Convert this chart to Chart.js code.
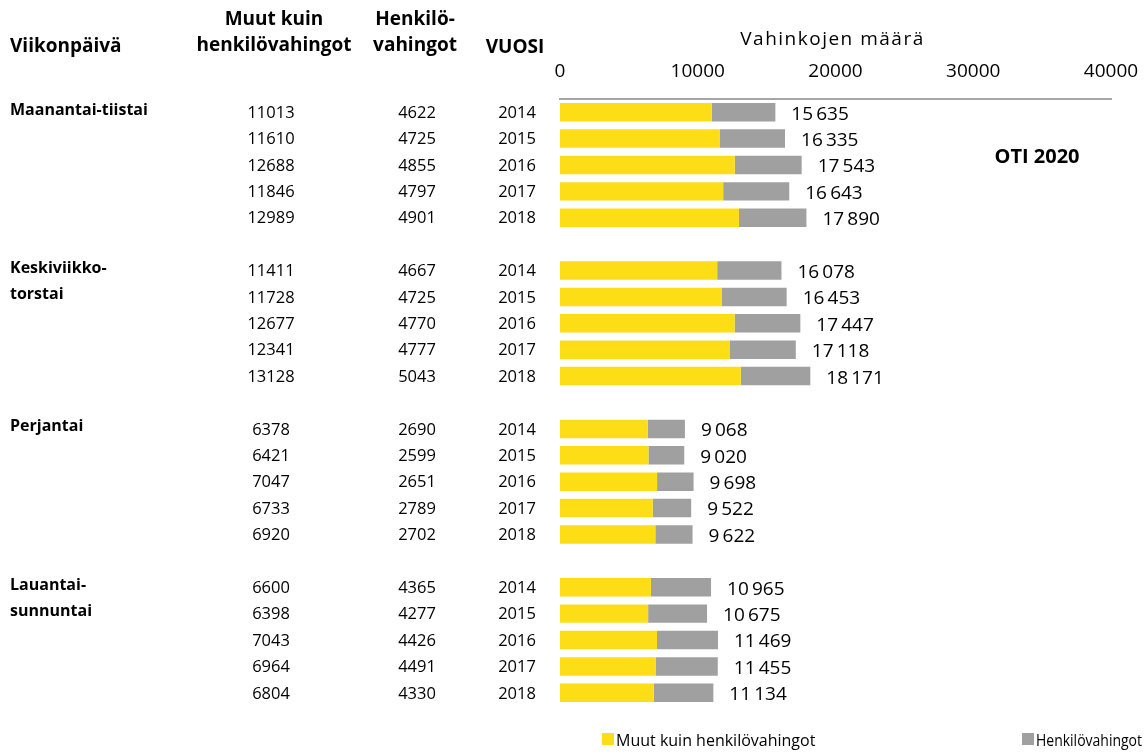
<!DOCTYPE html>
<html>
<head>
<meta charset="utf-8">
<script src="https://cdn.jsdelivr.net/npm/chart.js@4.4.1/dist/chart.umd.min.js"></script>
<style>
  body { margin: 0; background: #fff; }
</style>
</head>
<body>
<canvas id="myChart" width="1144" height="755"></canvas>
<script>
const ctx = document.getElementById("myChart").getContext("2d");

// weekday groups, one label line per row of the table
const groupNames = [
  ['Maanantai-tiistai'],
  ['Keskiviikko-', 'torstai'],
  ['Perjantai'],
  ['Lauantai-', 'sunnuntai'],
];
const years = ['2014', '2015', '2016', '2017', '2018'];

// Muut kuin henkilövahingot
const muutMaTi = [11013, 11610, 12688, 11846, 12989];
const muutKeTo = [11411, 11728, 12677, 12341, 13128];
const muutPe   = [6378, 6421, 7047, 6733, 6920];
const muutLaSu = [6600, 6398, 7043, 6964, 6804];

// Henkilövahingot
const henkMaTi = [4622, 4725, 4855, 4797, 4901];
const henkKeTo = [4667, 4725, 4770, 4777, 5043];
const henkPe   = [2690, 2599, 2651, 2789, 2702];
const henkLaSu = [4365, 4277, 4426, 4491, 4330];

const xTicks = [0, 10000, 20000, 30000, 40000];

const yellow = '#FCDD16';
const grey = '#A0A0A0';
const FONT = "'Open Sans', 'Noto Sans', sans-serif";

// one row per year, an empty row between groups
const muutGroups = [muutMaTi, muutKeTo, muutPe, muutLaSu];
const henkGroups = [henkMaTi, henkKeTo, henkPe, henkLaSu];
const labels = [];
const muutRows = [];
const henkRows = [];
const rowInfo = [];
muutGroups.forEach((g, gi) => {
  if (gi > 0) {
    labels.push('');
    muutRows.push(null);
    henkRows.push(null);
    rowInfo.push(null);
  }
  g.forEach((v, i) => {
    labels.push(groupNames[gi].join('') + ' ' + years[i]);
    muutRows.push(v);
    henkRows.push(henkGroups[gi][i]);
    rowInfo.push({ group: gi, idx: i });
  });
});

function fmt(n) {
  return String(n).replace(/\B(?=(\d{3})+(?!\d))/g, '\u2009');
}

const tablePlugin = {
  id: 'tablePlugin',
  afterDraw(chart) {
    const c = chart.ctx;
    const y = chart.scales.y;
    const x = chart.scales.x;
    c.save();
    c.fillStyle = '#000';
    c.textBaseline = 'middle';

    // axis title, spaced out a bit like the original
    c.font = "19px " + FONT;
    c.textAlign = 'center';
    c.letterSpacing = '1.5px';
    c.fillText('Vahinkojen määrä', (x.left + x.right) / 2 - 3, 40);
    c.letterSpacing = '0px';

    // headers
    c.font = "bold 19px " + FONT;
    c.textAlign = 'left';
    c.fillText('Viikonpäivä', 10, 47);
    c.textAlign = 'center';
    c.fillText('Muut kuin', 274, 20);
    c.fillText('henkilövahingot', 274, 46);
    c.fillText('Henkilö-', 415, 20);
    c.fillText('vahingot', 415, 46);
    c.fillText('VUOSI', 515, 48);
    c.font = "bold 20px " + FONT;
    c.fillText('OTI 2020', 1037, 157);

    rowInfo.forEach((r, i) => {
      if (!r) return;
      const py = y.getPixelForValue(i);
      if (r.idx < groupNames[r.group].length) {
        c.font = "bold 16px " + FONT;
        c.textAlign = 'left';
        c.fillText(groupNames[r.group][r.idx], 10, py - 2);
      }
      c.font = "16.5px " + FONT;
      c.textAlign = 'center';
      c.fillText(String(muutRows[i]), 271, py + 1);
      c.fillText(String(henkRows[i]), 417, py + 1);
      c.fillText(years[r.idx], 517, py + 1);

      // total label after bar
      const total = muutRows[i] + henkRows[i];
      c.textAlign = 'left';
      c.font = "19px " + FONT;
      c.fillText(fmt(total), x.getPixelForValue(total) + 16, py + 2);
    });

    // legend
    const items = [
      { color: yellow, text: chart.data.datasets[0].label, x: 602, w: 202 },
      { color: grey, text: chart.data.datasets[1].label, x: 1022, w: 106 },
    ];
    c.font = "16px " + FONT;
    c.textAlign = 'left';
    items.forEach(it => {
      c.fillStyle = it.color;
      c.fillRect(it.x, 733, 12, 12);
      c.fillStyle = '#000';
      c.fillText(it.text, it.x + 14, 741, it.w);
    });
    c.restore();
  }
};

const data = {
  labels,
  datasets: [
    {
      label: 'Muut kuin henkilövahingot',
      data: muutRows,
      backgroundColor: yellow,
    },
    {
      label: 'Henkilövahingot',
      data: henkRows,
      backgroundColor: grey,
    },
  ],
};

const config = {
  type: 'bar',
  data: data,
  plugins: [tablePlugin],
  options: {
    indexAxis: 'y',
    responsive: false,
    animation: false,
    categoryPercentage: 1,
    barPercentage: 0.7,
    layout: { padding: { left: 560, right: 33, top: 0, bottom: 49 } },
    plugins: {
      legend: { display: false },
      tooltip: { enabled: false },
    },
    scales: {
      x: {
        position: 'top',
        stacked: true,
        min: 0,
        max: 40000,
        afterBuildTicks: (scale) => {
          scale.ticks = xTicks.map(v => ({ value: v }));
        },
        afterFit: (scale) => {
          scale.height = 99;
          scale.paddingLeft = 0;
          scale.paddingRight = 0;
        },
        grid: { display: false, drawTicks: false },
        border: { display: true, color: '#A6A6A6', width: 2 },
        ticks: {
          color: '#000',
          padding: 16,
          maxRotation: 0,
          font: { family: FONT, size: 19 },
          callback: (value) => String(value),
        },
      },
      y: {
        stacked: true,
        display: false,
      },
    },
  },
};

const myChart = new Chart(ctx, config);
</script>
</body>
</html>
